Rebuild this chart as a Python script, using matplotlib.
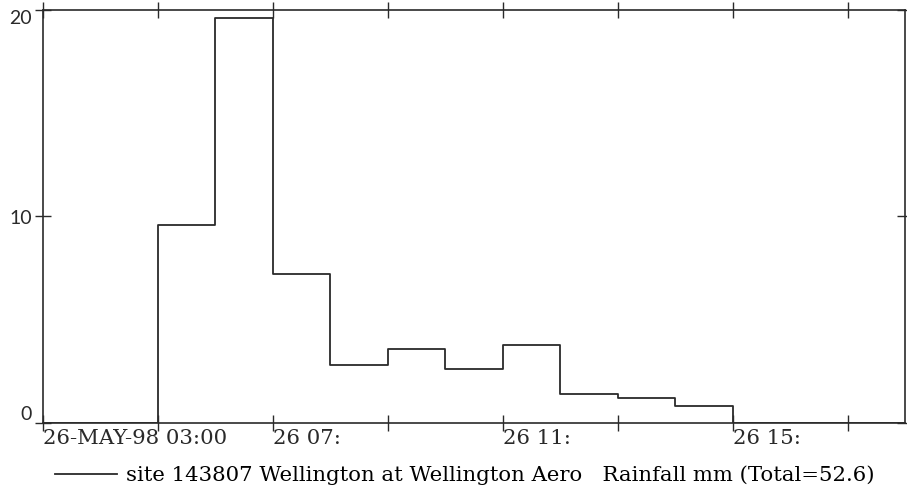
import pandas as pd
import matplotlib.pyplot as plt

# Hourly rainfall totals (mm), hour starting
hours = ['03:00', '04:00', '05:00', '06:00', '07:00', '08:00', '09:00', '10:00',
         '11:00', '12:00', '13:00', '14:00', '15:00', '16:00', '17:00', '18:00']
rain = [0, 0, 9.6, 19.6, 7.2, 2.8, 3.6, 2.6, 3.8, 1.4, 1.2, 0.8, 0, 0, 0, 0]

y_ticks = [0, 10, 20]
x_tick_hours = ['03:00', '07:00', '11:00', '15:00']
x_tick_labels = ['26-MAY-98 03:00', '26 07:', '26 11:', '26 15:']
legend_label = 'site 143807 Wellington at Wellington Aero   Rainfall mm (Total=52.6)'

times = pd.to_datetime(['1998-05-26 ' + h for h in hours])
minor_times = pd.date_range('1998-05-26 03:00', '1998-05-26 18:00', freq='2h')

serif = ['DejaVu Serif']
ink = '#2a2a2a'

fig = plt.figure(figsize=(9.07, 4.88), dpi=100)
ax = fig.add_axes([43 / 907, 1 - 423 / 488, (905 - 43) / 907, (423 - 10) / 488])

line, = ax.plot(times, rain, drawstyle='steps-post', color=ink, linewidth=1.3)

ax.set_xlim(times[0], times[-1])
ax.set_ylim(0, 20)

# Ticks every two hours on both horizontal edges, labels every four hours
ax.set_xticks(minor_times, minor=True)
ax.set_xticks(pd.to_datetime(['1998-05-26 ' + h for h in x_tick_hours]))
ax.set_xticklabels(x_tick_labels, ha='left', family=serif, fontsize=15.3, color=ink)
ax.tick_params(axis='x', which='both', direction='inout', length=12, width=1,
               top=True, pad=-2, color=ink)

ax.set_yticks(y_ticks)
ax.set_yticklabels([str(v) for v in y_ticks], family=['Lato', 'DejaVu Sans'],
                   fontsize=14, color=ink)
ax.tick_params(axis='y', direction='inout', length=12, width=1, right=True,
               pad=2, color=ink)
ylabels = ax.get_yticklabels()
ylabels[0].set_verticalalignment('bottom')
ylabels[-1].set_verticalalignment('top')

for s in ax.spines.values():
    s.set_color(ink)
    s.set_linewidth(1.2)

fig.legend([line], [legend_label], loc='lower left',
           bbox_to_anchor=(55 / 907, 0.006), frameon=False,
           handlelength=2.9, handletextpad=0.45, borderpad=0, borderaxespad=0,
           prop={'family': serif, 'size': 15.3})

plt.savefig('out.png', dpi=100)
